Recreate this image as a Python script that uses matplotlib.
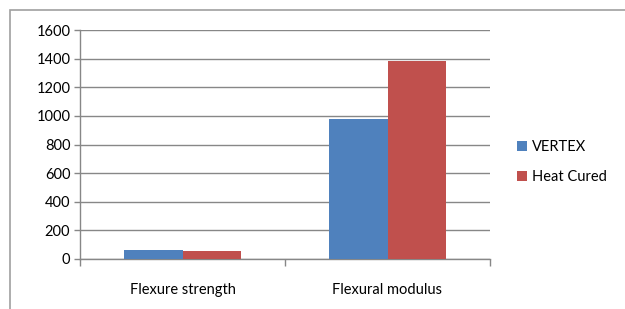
import numpy as np
import matplotlib
matplotlib.use("Agg")
import matplotlib.pyplot as plt
from matplotlib.patches import Rectangle

plt.rcParams['font.family'] = ['Lato', 'DejaVu Sans']

categories = ["Flexure strength", "Flexural modulus"]
series_names = ["VERTEX", "Heat Cured"]
vertex = [65, 976]
heat_cured = [58, 1383]
colors = ["#4F81BD", "#C0504D"]

W, H = 625, 309
fig = plt.figure(figsize=(W / 100, H / 100), dpi=100)

# outer chart border (cut off at right and bottom in the reference)
fig.patches.append(Rectangle((10 / W, -0.1), 1.2, (H - 10) / H + 0.1,
                             transform=fig.transFigure, fill=False,
                             edgecolor="#A0A0A0", linewidth=1.2))

ax = fig.add_axes([80 / W, (H - 259) / H, 410 / W, 229 / H])

x = np.arange(len(categories))
bw = 0.285
gray = "#878787"
ax.bar(x - bw / 2, vertex, bw, color=colors[0], label=series_names[0], zorder=3)
ax.bar(x + bw / 2, heat_cured, bw, color=colors[1], label=series_names[1], zorder=3)

ax.set_xlim(-0.5, len(categories) - 0.5)
ax.set_ylim(0, 1600)
ax.set_yticks(np.arange(0, 1601, 200))
ax.yaxis.grid(True, color=gray, linewidth=1)
ax.set_axisbelow(True)

ax.set_xticks(np.arange(-0.5, len(categories), 1.0))
ax.set_xticklabels([])
ax.set_xticks(x, minor=True)
ax.set_xticklabels(categories, minor=True)
ax.tick_params(axis="x", which="major", length=5, color=gray, width=1)
ax.tick_params(axis="x", which="minor", length=0, pad=17, labelsize=10.5)
ax.tick_params(axis="y", length=4, color=gray, width=1, labelsize=10.5, pad=3)

for s in ["top", "right"]:
    ax.spines[s].set_visible(False)
for s in ["left", "bottom"]:
    ax.spines[s].set_color(gray)
    ax.spines[s].set_linewidth(1)

ax.legend(loc="center left", bbox_to_anchor=(504 / W, (H - 162) / H),
          bbox_transform=fig.transFigure, frameon=False, fontsize=10.5,
          handlelength=0.7, handleheight=0.7, handletextpad=0.3,
          labelspacing=1.1)

fig.savefig("out.png", dpi=100)
